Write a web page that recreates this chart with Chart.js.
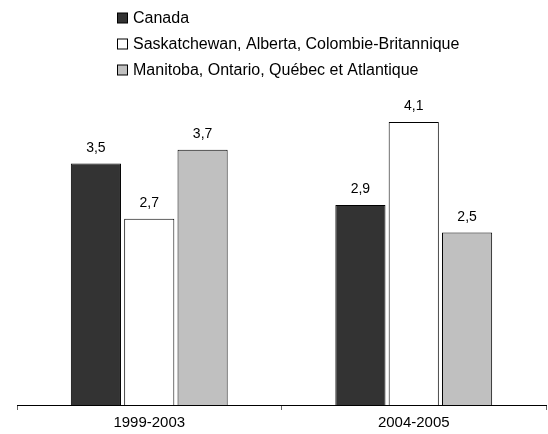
<!DOCTYPE html>
<html>
<head>
<meta charset="utf-8">
<script src="https://cdn.jsdelivr.net/npm/chart.js@4"></script>
<style>
  html, body { margin: 0; padding: 0; background: #fff; }
  #wrap { width: 548px; height: 434px; }
</style>
</head>
<body>
<div id="wrap"><canvas id="chart" width="548" height="434"></canvas></div>
<script>
// Data
const periods = ['1999-2003', '2004-2005'];
const seriesNames = [
  'Canada',
  'Saskatchewan, Alberta, Colombie-Britannique',
  'Manitoba, Ontario, Québec et Atlantique'
];
const canada = [3.5, 2.9];
const westProv = [2.7, 4.1];
const eastProv = [3.7, 2.5];
const seriesColors = ['#333333', '#ffffff', '#c0c0c0'];

const fontFamily = '"Liberation Sans", Arial, sans-serif';

// Value labels above each bar
const valueLabels = {
  id: 'valueLabels',
  afterDatasetsDraw(chart) {
    const ctx = chart.ctx;
    ctx.save();
    ctx.font = '14px ' + fontFamily;
    ctx.fillStyle = '#000';
    ctx.textAlign = 'center';
    ctx.textBaseline = 'alphabetic';
    chart.data.datasets.forEach((ds, i) => {
      chart.getDatasetMeta(i).data.forEach((bar, j) => {
        ctx.fillText(ds.data[j].toFixed(1).replace('.', ','), bar.x, bar.y - 12);
      });
    });
    ctx.restore();
  }
};

// Stacked legend, left aligned
const stackLegend = {
  id: 'stackLegend',
  afterDraw(chart) {
    const ctx = chart.ctx;
    ctx.save();
    ctx.font = '16px ' + fontFamily;
    ctx.textBaseline = 'middle';
    chart.data.datasets.forEach((ds, i) => {
      const y = 18 + i * 26;
      ctx.fillStyle = ds.backgroundColor;
      ctx.fillRect(117.5, y - 5, 10, 10);
      ctx.strokeStyle = '#000';
      ctx.lineWidth = 1;
      ctx.strokeRect(117.5, y - 5, 10, 10);
      ctx.fillStyle = '#000';
      ctx.fillText(ds.label, 133, y + 1);
    });
    ctx.restore();
  }
};

const ctx = document.getElementById('chart').getContext('2d');
const chart = new Chart(ctx, {
  type: 'bar',
  data: {
    labels: periods,
    datasets: [canada, westProv, eastProv].map((vals, i) => ({
      label: seriesNames[i],
      data: vals,
      backgroundColor: seriesColors[i],
      borderColor: '#000',
      borderWidth: 1,
      categoryPercentage: 0.605,
      barPercentage: 0.94
    }))
  },
  options: {
    responsive: false,
    animation: false,
    devicePixelRatio: 1,
    layout: { padding: { top: 60, left: 17, right: 2, bottom: 0 } },
    plugins: {
      legend: { display: false },
      tooltip: { enabled: false }
    },
    scales: {
      x: {
        grid: {
          drawOnChartArea: false,
          drawTicks: true,
          tickLength: 5,
          color: '#666'
        },
        border: { display: true, color: '#000', width: 1 },
        ticks: {
          color: '#000',
          padding: 4,
          font: { size: 15, family: fontFamily }
        },
        afterFit(scale) { scale.height = 29; }
      },
      y: {
        display: false,
        min: 0,
        max: 5
      }
    }
  },
  plugins: [valueLabels, stackLegend]
});
</script>
</body>
</html>
